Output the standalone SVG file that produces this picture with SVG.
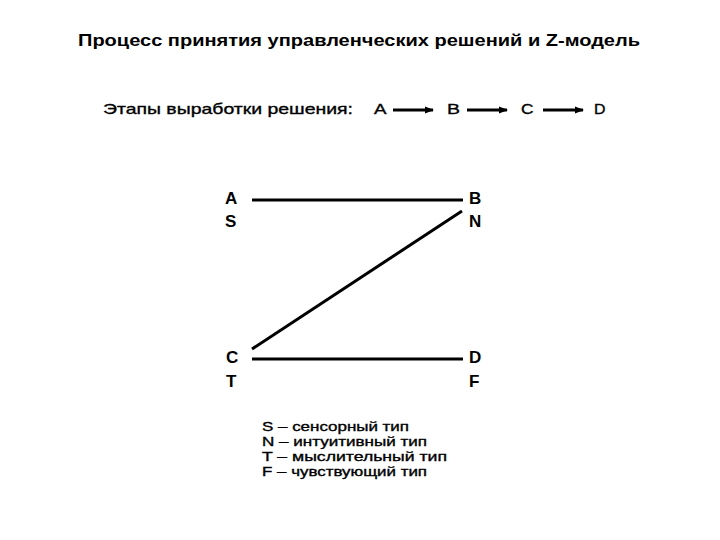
<svg xmlns="http://www.w3.org/2000/svg" width="720" height="540" viewBox="0 0 720 540">
<style>
text{font-family:"Liberation Sans",Arial,sans-serif;fill:#000}
.title{font-size:17px;font-weight:bold}
.stage{font-size:15px;stroke:#000;stroke-width:0.35}
.lbl{font-size:17px;font-weight:bold}
.leg{font-size:13px;stroke:#000;stroke-width:0.35}
.ln{stroke:#000;stroke-width:3;fill:none}
.ar{stroke:#000;stroke-width:3;fill:none}
</style>
<defs>
<marker id="ah" markerWidth="9" markerHeight="8" refX="8" refY="4" orient="auto" markerUnits="userSpaceOnUse">
<path d="M0,0.5 L9,4 L0,7.5 Z" fill="#000"/>
</marker>
</defs>
<rect width="720" height="540" fill="#fff"/>
<text class="title" x="78" y="46" textLength="562" lengthAdjust="spacingAndGlyphs">Процесс принятия управленческих решений и Z-модель</text>
<g id="stages">
<text class="stage" x="103" y="114" textLength="250" lengthAdjust="spacingAndGlyphs">Этапы выработки решения:</text>
<text class="stage" x="374" y="114" textLength="12.5" lengthAdjust="spacingAndGlyphs">A</text>
<text class="stage" x="447" y="114" textLength="13" lengthAdjust="spacingAndGlyphs">B</text>
<text class="stage" x="521" y="114" textLength="12.5" lengthAdjust="spacingAndGlyphs">C</text>
<text class="stage" x="594" y="114" textLength="11.5" lengthAdjust="spacingAndGlyphs">D</text>
</g>
<g id="nodeA"><text class="lbl" x="225" y="204">A</text><text class="lbl" x="225" y="227">S</text></g>
<g id="nodeB"><text class="lbl" x="469" y="204">B</text><text class="lbl" x="469" y="227">N</text></g>
<g id="nodeC"><text class="lbl" x="226" y="363">C</text><text class="lbl" x="226" y="387">T</text></g>
<g id="nodeD"><text class="lbl" x="469" y="363">D</text><text class="lbl" x="469" y="387">F</text></g>
<g id="connectors">
<line class="ar" x1="393" y1="110" x2="433" y2="110" marker-end="url(#ah)"/>
<line class="ar" x1="467" y1="110" x2="507" y2="110" marker-end="url(#ah)"/>
<line class="ar" x1="543" y1="110" x2="583" y2="110" marker-end="url(#ah)"/>
<line class="ln" x1="252" y1="200" x2="463" y2="200"/>
<line class="ln" x1="462" y1="211" x2="252" y2="349"/>
<line class="ln" x1="252" y1="359" x2="463" y2="359"/>
</g>
<g id="legend">
<text class="leg" x="262" y="431" textLength="147" lengthAdjust="spacingAndGlyphs">S – сенсорный тип</text>
<text class="leg" x="262" y="446" textLength="165" lengthAdjust="spacingAndGlyphs">N – интуитивный тип</text>
<text class="leg" x="262" y="461" textLength="185" lengthAdjust="spacingAndGlyphs">T – мыслительный тип</text>
<text class="leg" x="262" y="476" textLength="165" lengthAdjust="spacingAndGlyphs">F – чувствующий тип</text>
</g>
</svg>
